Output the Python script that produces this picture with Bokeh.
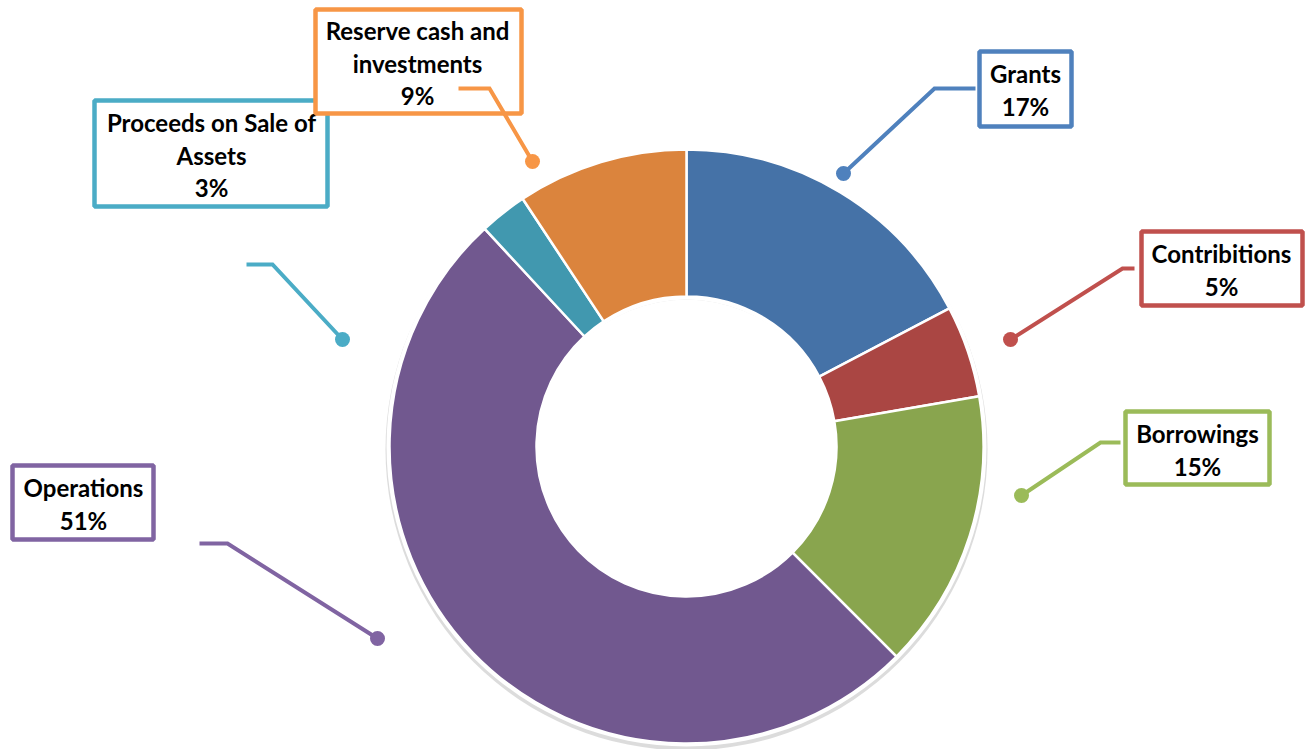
import numpy as np
from bokeh.plotting import figure
from bokeh.models import Range1d
from bokeh.core.properties import value
from bokeh.embed import file_html
from bokeh.resources import INLINE

# ---- data ----
categories = ["Grants", "Contribitions", "Borrowings", "Operations",
              "Proceeds on Sale of Assets", "Reserve cash and investments"]
shares = [17.3, 5.0, 15.2, 50.6, 2.6, 9.3]

# ---- styles ----
slice_colors = ["#4572A7", "#AA4643", "#89A54E", "#71588F", "#4198AF", "#DB843D"]
accent_colors = ["#4F81BD", "#C0504D", "#9BBB59", "#8064A2", "#4BACC6", "#F79646"]

W, H = 1305, 749
p = figure(width=W, height=H, output_backend="svg", toolbar_location=None,
           x_range=Range1d(0, W), y_range=Range1d(-H, 0),
           min_border=0, outline_line_color=None, background_fill_color="white")
p.axis.visible = False
p.grid.visible = False

cx, cy = 686, -446
r_out, r_in = 297, 150

# subtle shadow and white rim
p.annulus(x=[cx], y=[cy - 3], inner_radius=r_in, outer_radius=r_out + 4,
          fill_color="#9a9a9a", fill_alpha=0.35, line_color=None)
p.annulus(x=[cx], y=[cy], inner_radius=r_in - 3, outer_radius=r_out + 3,
          fill_color="white", line_color=None)

total = float(sum(shares))
frac = np.array(shares) / total
cum = np.concatenate([[0.0], np.cumsum(frac)])
start = np.pi / 2 - cum[:-1] * 2 * np.pi
end = np.pi / 2 - cum[1:] * 2 * np.pi

p.annular_wedge(x=cx, y=cy, inner_radius=r_in, outer_radius=r_out,
                start_angle=start, end_angle=end, direction="clock",
                fill_color=slice_colors, line_color="white", line_width=2.5)

# ---- labels (layout in pixel coords of the page) ----
label_lines = [
    ["Grants"],
    ["Contribitions"],
    ["Borrowings"],
    ["Operations"],
    ["Proceeds on Sale of", "Assets"],
    ["Reserve cash and", "investments"],
]
# box centre-line bounds: left, right, top, bottom
boxes = [
    (979, 1071, 51, 126),
    (1141, 1302, 231, 305),
    (1125, 1269, 411, 484),
    (12, 153, 465, 539),
    (94, 327, 100, 206),
    (315, 521, 9, 113),
]
text_cx = [1025, 1221, 1197, 83, 211, 417]
text_y0 = [73, 253, 433, 487, 122, 30]
line_step = 32.5
leaders = [
    [(975, 88), (934, 88), (843, 173)],
    [(1134, 268), (1122, 268), (1010, 339)],
    [(1120, 442), (1100, 442), (1021, 495)],
    [(199, 543), (227, 543), (377, 638)],
    [(246, 264), (272, 264), (342, 339)],
    [(458, 88), (489, 88), (532, 161)],
]

for i, cat in enumerate(categories):
    col = accent_colors[i]
    l, r, t, b = boxes[i]
    p.quad(left=[l], right=[r], top=[-t], bottom=[-b], fill_color="white",
           line_color=col, line_width=4.5)
    pct = f"{round(frac[i] * 100):.0f}%"
    lines = label_lines[i] + [pct]
    ys = [-(text_y0[i] + k * line_step) for k in range(len(lines))]
    p.text(x=[text_cx[i]] * len(lines), y=ys, text=lines,
           text_font=value("Lato"), text_font_style="bold", text_font_size="24px",
           text_align="center", text_baseline="middle", text_color="#000000")
    pts = leaders[i]
    p.line(x=[q[0] for q in pts], y=[-q[1] for q in pts], line_color=col,
           line_width=4, line_join="miter")
    p.scatter(x=[pts[-1][0]], y=[-pts[-1][1]], size=15, marker="circle",
              fill_color=col, line_color=None)

open("out.html", "w").write(file_html(p, INLINE))
